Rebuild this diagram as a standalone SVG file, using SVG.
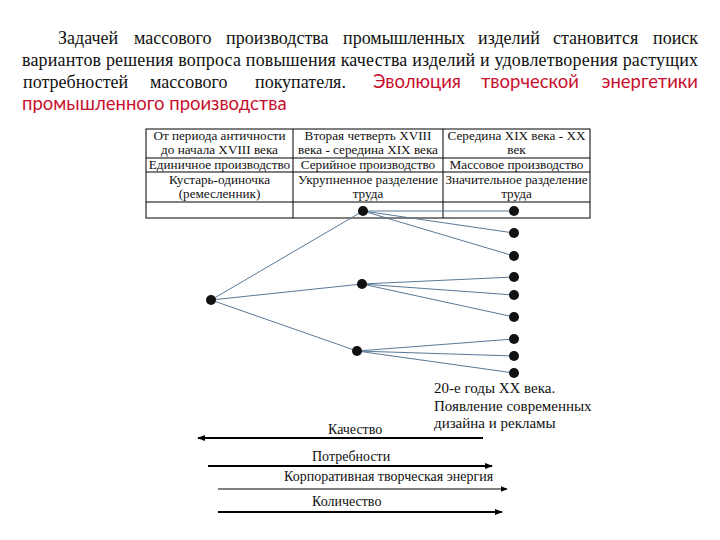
<svg xmlns="http://www.w3.org/2000/svg" width="720" height="540" viewBox="0 0 720 540">
<style>
.p{font-family:'Liberation Serif','Times New Roman',serif;font-size:18px;fill:#111}
.r{font-family:Lato,'Liberation Sans',sans-serif;font-size:18.5px;fill:#c8102e}
.t{font-family:'Liberation Serif','Times New Roman',serif;font-size:13.2px;fill:#111;text-anchor:middle}
.b{font-family:'Liberation Serif','Times New Roman',serif;font-size:14px;fill:#111}
.d{font-family:'Liberation Serif','Times New Roman',serif;font-size:15px;fill:#111}
.g{stroke:#000;stroke-width:1;fill:none}
.c{stroke:#5a7896;stroke-width:1;fill:none}
.n{fill:#111}
.a{stroke:#000;fill:none}
</style>
<defs>
<marker id="ah" viewBox="0 0 10 10" refX="9" refY="5" markerWidth="4" markerHeight="4" orient="auto-start-reverse" markerUnits="strokeWidth"><path d="M0,1 L10,5 L0,9 z" fill="#000"/></marker>
<marker id="ah2" viewBox="0 0 10 10" refX="9" refY="5" markerWidth="7" markerHeight="7" orient="auto-start-reverse" markerUnits="strokeWidth"><path d="M0,1 L10,5 L0,9 z" fill="#000"/></marker>
</defs>
<g id="paragraph">
<text class="p" y="44"><tspan x="58">Задачей</tspan><tspan x="134">массового</tspan><tspan x="226">производства</tspan><tspan x="343">промышленных</tspan><tspan x="478">изделий</tspan><tspan x="553">становится</tspan><tspan x="698" text-anchor="end">поиск</tspan></text>
<text class="p" x="22" y="66" textLength="676" lengthAdjust="spacing">вариантов решения вопроса повышения качества изделий и удовлетворения растущих</text>
<text class="p" y="88"><tspan x="23">потребностей</tspan><tspan x="150">массового</tspan><tspan x="255">покупателя.</tspan></text>
<text class="r" y="88"><tspan x="373">Эволюция</tspan><tspan x="481">творческой</tspan><tspan x="698" text-anchor="end">энергетики</tspan></text>
<text class="r" x="22" y="110">промышленного производства</text>
</g>
<g id="table">
<rect class="g" x="146" y="129" width="444" height="89"/>
<line class="g" x1="293" y1="129" x2="293" y2="218"/>
<line class="g" x1="443" y1="129" x2="443" y2="218"/>
<line class="g" x1="146" y1="158" x2="590" y2="158"/>
<line class="g" x1="146" y1="172" x2="590" y2="172"/>
<line class="g" x1="146" y1="202" x2="590" y2="202"/>
<text class="t" x="219.5" y="140">От периода античности</text>
<text class="t" x="219.5" y="154">до начала XVIII века</text>
<text class="t" x="219.5" y="169">Единичное производство</text>
<text class="t" x="219.5" y="184">Кустарь-одиночка</text>
<text class="t" x="219.5" y="198">(ремесленник)</text>
<text class="t" x="368" y="140">Вторая четверть XVIII</text>
<text class="t" x="368" y="154">века - середина XIX века</text>
<text class="t" x="368" y="169">Серийное производство</text>
<text class="t" x="368" y="184">Укрупненное разделение</text>
<text class="t" x="368" y="198">труда</text>
<text class="t" x="516.5" y="140">Середина XIX века - XX</text>
<text class="t" x="516.5" y="154">век</text>
<text class="t" x="516.5" y="169">Массовое производство</text>
<text class="t" x="516.5" y="184">Значительное разделение</text>
<text class="t" x="516.5" y="198">труда</text>
</g>
<g id="connectors">
<line class="c" x1="211" y1="300" x2="363" y2="211"/>
<line class="c" x1="211" y1="300" x2="362" y2="284"/>
<line class="c" x1="211" y1="300" x2="357" y2="351"/>
<line class="c" x1="363" y1="211" x2="514" y2="211"/>
<line class="c" x1="363" y1="211" x2="514" y2="233"/>
<line class="c" x1="363" y1="211" x2="514" y2="256"/>
<line class="c" x1="362" y1="284" x2="514" y2="277"/>
<line class="c" x1="362" y1="284" x2="514" y2="295"/>
<line class="c" x1="362" y1="284" x2="514" y2="317"/>
<line class="c" x1="357" y1="351" x2="514" y2="339"/>
<line class="c" x1="357" y1="351" x2="514" y2="356"/>
<line class="c" x1="357" y1="351" x2="514" y2="373"/>
<line class="a" stroke-width="2" x1="483" y1="438" x2="198" y2="438" marker-end="url(#ah)"/>
<line class="a" stroke-width="2" x1="208" y1="466" x2="492" y2="466" marker-end="url(#ah)"/>
<line class="a" stroke-width="1" x1="218" y1="489" x2="507" y2="489" marker-end="url(#ah2)"/>
<line class="a" stroke-width="2" x1="218" y1="512" x2="502" y2="512" marker-end="url(#ah)"/>
</g>
<g id="nodes">
<circle id="n0" class="n" cx="211" cy="300" r="5"/>
<circle id="m1" class="n" cx="363" cy="211" r="5"/>
<circle id="m2" class="n" cx="362" cy="284" r="5"/>
<circle id="m3" class="n" cx="357" cy="351" r="5"/>
<circle id="r1" class="n" cx="514" cy="211" r="5"/>
<circle id="r2" class="n" cx="514" cy="233" r="5"/>
<circle id="r3" class="n" cx="514" cy="256" r="5"/>
<circle id="r4" class="n" cx="514" cy="277" r="5"/>
<circle id="r5" class="n" cx="514" cy="295" r="5"/>
<circle id="r6" class="n" cx="514" cy="317" r="5"/>
<circle id="r7" class="n" cx="514" cy="339" r="5"/>
<circle id="r8" class="n" cx="514" cy="356" r="5"/>
<circle id="r9" class="n" cx="514" cy="373" r="5"/>
</g>
<g id="labels">
<text class="d" x="434" y="393">20-е годы XX века.</text>
<text class="d" x="434" y="411">Появление современных</text>
<text class="d" x="434" y="428">дизайна и рекламы</text>
<text class="b" x="328" y="434">Качество</text>
<text class="b" x="312" y="461">Потребности</text>
<text class="b" x="284" y="481">Корпоративная творческая энергия</text>
<text class="b" x="312" y="506">Количество</text>
</g>
</svg>
